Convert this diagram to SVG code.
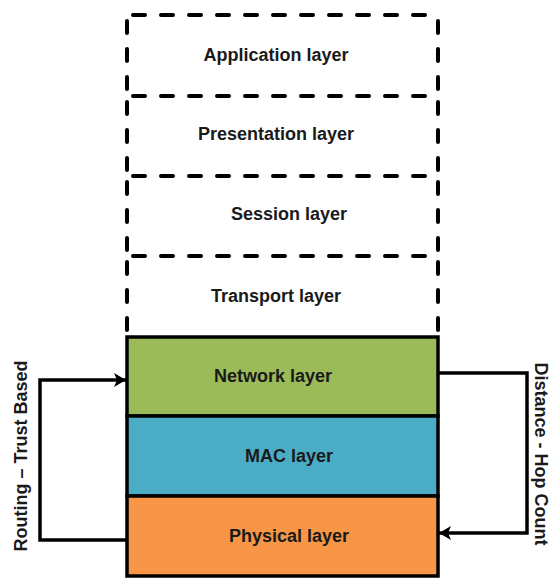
<svg xmlns="http://www.w3.org/2000/svg" width="551" height="578" viewBox="0 0 551 578">
  <style>
    .lbl { font-family: "Liberation Sans", Arial, sans-serif; font-weight: bold; font-size: 18px; fill: #1a1a1a; text-anchor: middle; }
    .dash { fill: none; stroke: #000; stroke-width: 4; stroke-linecap: round; stroke-dasharray: 12 16; stroke-dashoffset: -6; }
    .solid { stroke: #000; stroke-width: 3.5; }
    .conn { fill: none; stroke: #000; stroke-width: 3.5; }
  </style>
  <defs>
    <marker id="arrow" viewBox="0 0 12 14" refX="12" refY="7" markerWidth="12" markerHeight="14" orient="auto" markerUnits="userSpaceOnUse">
      <path d="M0,0 L12,7 L0,14 L3,7 z" fill="#000"/>
    </marker>
  </defs>

  <!-- Upper (dashed) layers: each draws its top edge and both sides;
       the bottom edge is the next layer's top -->
  <g id="application">
    <line class="dash" x1="127" y1="15" x2="438" y2="15"/>
    <line class="dash" x1="127" y1="15" x2="127" y2="96"/>
    <line class="dash" x1="438" y1="15" x2="438" y2="96"/>
    <text class="lbl" x="276" y="61">Application layer</text>
  </g>
  <g id="presentation">
    <line class="dash" x1="127" y1="96" x2="438" y2="96"/>
    <line class="dash" x1="127" y1="96" x2="127" y2="176"/>
    <line class="dash" x1="438" y1="96" x2="438" y2="176"/>
    <text class="lbl" x="276" y="140">Presentation layer</text>
  </g>
  <g id="session">
    <line class="dash" x1="127" y1="176" x2="438" y2="176"/>
    <line class="dash" x1="127" y1="176" x2="127" y2="256"/>
    <line class="dash" x1="438" y1="176" x2="438" y2="256"/>
    <text class="lbl" x="289" y="220">Session layer</text>
  </g>
  <g id="transport">
    <line class="dash" x1="127" y1="256" x2="438" y2="256"/>
    <line class="dash" x1="127" y1="256" x2="127" y2="336"/>
    <line class="dash" x1="438" y1="256" x2="438" y2="336"/>
    <text class="lbl" x="276" y="302">Transport layer</text>
  </g>

  <!-- Lower (solid) layers -->
  <g id="network">
    <rect class="solid" x="127" y="337" width="311" height="79" fill="#9BBB59"/>
    <text class="lbl" x="273" y="382">Network layer</text>
  </g>
  <g id="mac">
    <rect class="solid" x="127" y="416" width="311" height="80" fill="#4BACC6"/>
    <text class="lbl" x="289" y="462">MAC layer</text>
  </g>
  <g id="physical">
    <rect class="solid" x="127" y="496" width="311" height="80" fill="#F79646"/>
    <text class="lbl" x="289" y="542">Physical layer</text>
  </g>

  <!-- Connectors -->
  <g id="connectors">
    <path class="conn" d="M127,540 H40 V380 H126" marker-end="url(#arrow)"/>
    <path class="conn" d="M438,373 H527 V533 H439" marker-end="url(#arrow)"/>
  </g>

  <!-- Side labels -->
  <g id="side-labels">
    <text class="lbl" transform="translate(27,456) rotate(-90)">Routing – Trust Based</text>
    <text class="lbl" transform="translate(535,454) rotate(90)">Distance - Hop Count</text>
  </g>
</svg>
